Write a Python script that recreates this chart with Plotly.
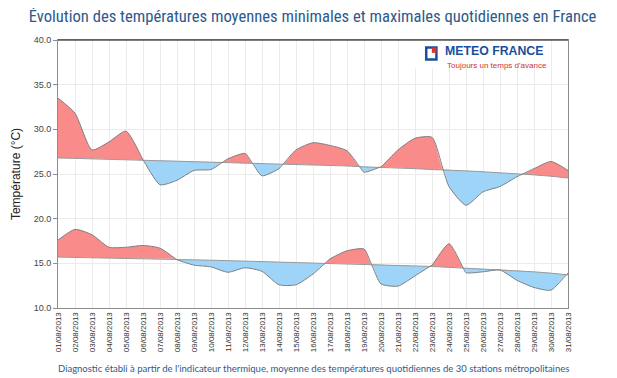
import plotly.graph_objects as go

dates = ["%02d/08/2013" % d for d in range(1, 32)]

tmax = [33.5, 31.8, 27.7, 28.6, 29.8, 26.6, 23.8, 24.3, 25.4, 25.5, 26.7, 27.3, 24.8, 25.6, 27.7, 28.5,
        28.2, 27.6, 25.2, 25.8, 27.7, 29.0, 29.1, 23.6, 21.5, 23.0, 23.6, 24.7, 25.6, 26.4, 25.4]
tmax_norm = [26.8, 26.75, 26.7, 26.65, 26.6, 26.55, 26.5, 26.45, 26.4, 26.35, 26.3, 26.2, 26.15, 26.1, 26.05, 26.0,
             25.95, 25.9, 25.8, 25.75, 25.7, 25.6, 25.5, 25.45, 25.35, 25.25, 25.15, 25.0, 24.9, 24.75, 24.55]
tmin = [17.6, 18.8, 18.2, 16.8, 16.8, 17.0, 16.7, 15.4, 14.8, 14.6, 14.0, 14.5, 14.1, 12.6, 12.6, 13.8,
        15.5, 16.4, 16.6, 12.7, 12.45, 13.6, 14.8, 17.2, 13.95, 14.05, 14.25, 13.1, 12.3, 12.0, 13.9]
tmin_norm = [15.7, 15.67, 15.63, 15.6, 15.57, 15.53, 15.5, 15.45, 15.4, 15.35, 15.3, 15.25, 15.2, 15.15, 15.1, 15.05,
             15.0, 14.95, 14.9, 14.85, 14.8, 14.7, 14.65, 14.55, 14.45, 14.4, 14.3, 14.2, 14.05, 13.9, 13.7]

y_ticks = [10, 15, 20, 25, 30, 35, 40]

RED = "#F98B8B"
BLUE = "#9DD4F7"
EDGE = "#7f7f7f"
LINE = dict(width=0, shape="spline", smoothing=0.6)


def split_bands(vals, norm):
    """Insert the crossing points between a series and its normal so the two
    coloured bands meet exactly where the curves cross."""
    xs, v, n = [0.0], [vals[0]], [norm[0]]
    for i in range(1, len(vals)):
        d0 = vals[i - 1] - norm[i - 1]
        d1 = vals[i] - norm[i]
        if d0 * d1 < 0:
            f = d0 / (d0 - d1)
            xc = i - 1 + f
            yc = norm[i - 1] + f * (norm[i] - norm[i - 1])
            xs.append(xc); v.append(yc); n.append(yc)
        xs.append(float(i)); v.append(vals[i]); n.append(norm[i])
    up = [max(a, b) for a, b in zip(v, n)]
    lo = [min(a, b) for a, b in zip(v, n)]
    return xs, v, n, up, lo


fig = go.Figure()
for vals, norm in ((tmax, tmax_norm), (tmin, tmin_norm)):
    xs, v, n, up, lo = split_bands(vals, norm)
    fig.add_trace(go.Scatter(x=xs, y=n, mode="lines", line=LINE, hoverinfo="skip", showlegend=False))
    fig.add_trace(go.Scatter(x=xs, y=up, mode="lines", fill="tonexty", fillcolor=RED,
                             line=LINE, hoverinfo="skip", showlegend=False))
    fig.add_trace(go.Scatter(x=xs, y=n, mode="lines", line=LINE, hoverinfo="skip", showlegend=False))
    fig.add_trace(go.Scatter(x=xs, y=lo, mode="lines", fill="tonexty", fillcolor=BLUE,
                             line=LINE, hoverinfo="skip", showlegend=False))
    fig.add_trace(go.Scatter(x=list(range(len(norm))), y=norm, mode="lines",
                             line=dict(width=1, color="#9a9a9a"), hoverinfo="skip", showlegend=False))
    fig.add_trace(go.Scatter(x=xs, y=v, mode="lines",
                             line=dict(width=1, color=EDGE, shape="spline", smoothing=0.6), showlegend=False))

# the page body has an 8px margin, so the figure is sized to fit the visible window
fig.update_layout(
    width=609, height=370,
    margin=dict(l=50, r=49, t=32, b=70),
    paper_bgcolor="white", plot_bgcolor="white",
    font=dict(family="Liberation Sans, Arial, sans-serif", color="#333333"),
    title=dict(text="Évolution des températures moyennes minimales et maximales quotidiennes en France",
               x=0.5, xanchor="center", y=0.977, yanchor="middle",
               font=dict(family="Roboto Condensed, Liberation Sans Narrow, Roboto, sans-serif",
                         size=16.6, color="#2d5a8c")),
    xaxis=dict(range=[0, 30], tickmode="array", tickvals=list(range(31)), ticktext=dates,
               tickangle=-90, tickfont=dict(size=8, color="#333333"), showgrid=True,
               gridcolor="#ebebeb", gridwidth=1, zeroline=False, showline=True, linecolor="#8c8c8c",
               mirror=True, ticks="", fixedrange=True, automargin=False),
    yaxis=dict(range=[10, 40], tickmode="array", tickvals=y_ticks, tickformat=".1f",
               tickfont=dict(size=9, color="#444444"), showgrid=True, gridcolor="#ebebeb",
               zeroline=False, showline=True, linecolor="#8c8c8c", mirror=True,
               ticks="outside", ticklen=4, tickcolor="#8c8c8c", automargin=False,
               title=dict(text="Température (°C)", font=dict(size=12, color="#222222"), standoff=10)),
)

# darker top border like the reference
fig.add_shape(type="line", xref="paper", yref="paper", x0=0, x1=1, y0=1, y1=1,
              line=dict(color="#555555", width=1.5))

# logo
fig.add_shape(type="rect", xref="paper", yref="paper", x0=0.70, x1=0.965, y0=0.895, y1=0.994,
              fillcolor="white", line=dict(width=0), layer="above")
fig.add_shape(type="rect", xref="paper", yref="paper", x0=0.722, x1=0.742, y0=0.927, y1=0.972,
              fillcolor="white", line=dict(color="#1a4f9c", width=2.5), layer="above")
fig.add_shape(type="rect", xref="paper", yref="paper", x0=0.733, x1=0.742, y0=0.952, y1=0.972,
              fillcolor="#d33", line=dict(width=0), layer="above")
fig.add_annotation(text="<b>METEO FRANCE</b>", xref="paper", yref="paper", x=0.757, y=0.928,
                   xanchor="left", yanchor="bottom", showarrow=False, borderpad=0,
                   font=dict(family="Liberation Sans, Arial, sans-serif", size=12.3, color="#1a4f9c"))
fig.add_annotation(text="Toujours un temps d'avance", xref="paper", yref="paper", x=0.761, y=0.926,
                   xanchor="left", yanchor="top", showarrow=False, borderpad=0,
                   font=dict(family="Liberation Sans, Arial, sans-serif", size=8, color="#d03030"))

# footer
fig.add_annotation(text="Diagnostic établi à partir de l'indicateur thermique, moyenne des températures quotidiennes de 30 stations métropolitaines",
                   xref="paper", yref="paper", x=0.5, y=-0.224, xanchor="center", yanchor="middle",
                   showarrow=False,
                   font=dict(family="Lato, Open Sans, sans-serif", size=9.5, color="#2d5a8c"))

fig.write_html("out.html")
